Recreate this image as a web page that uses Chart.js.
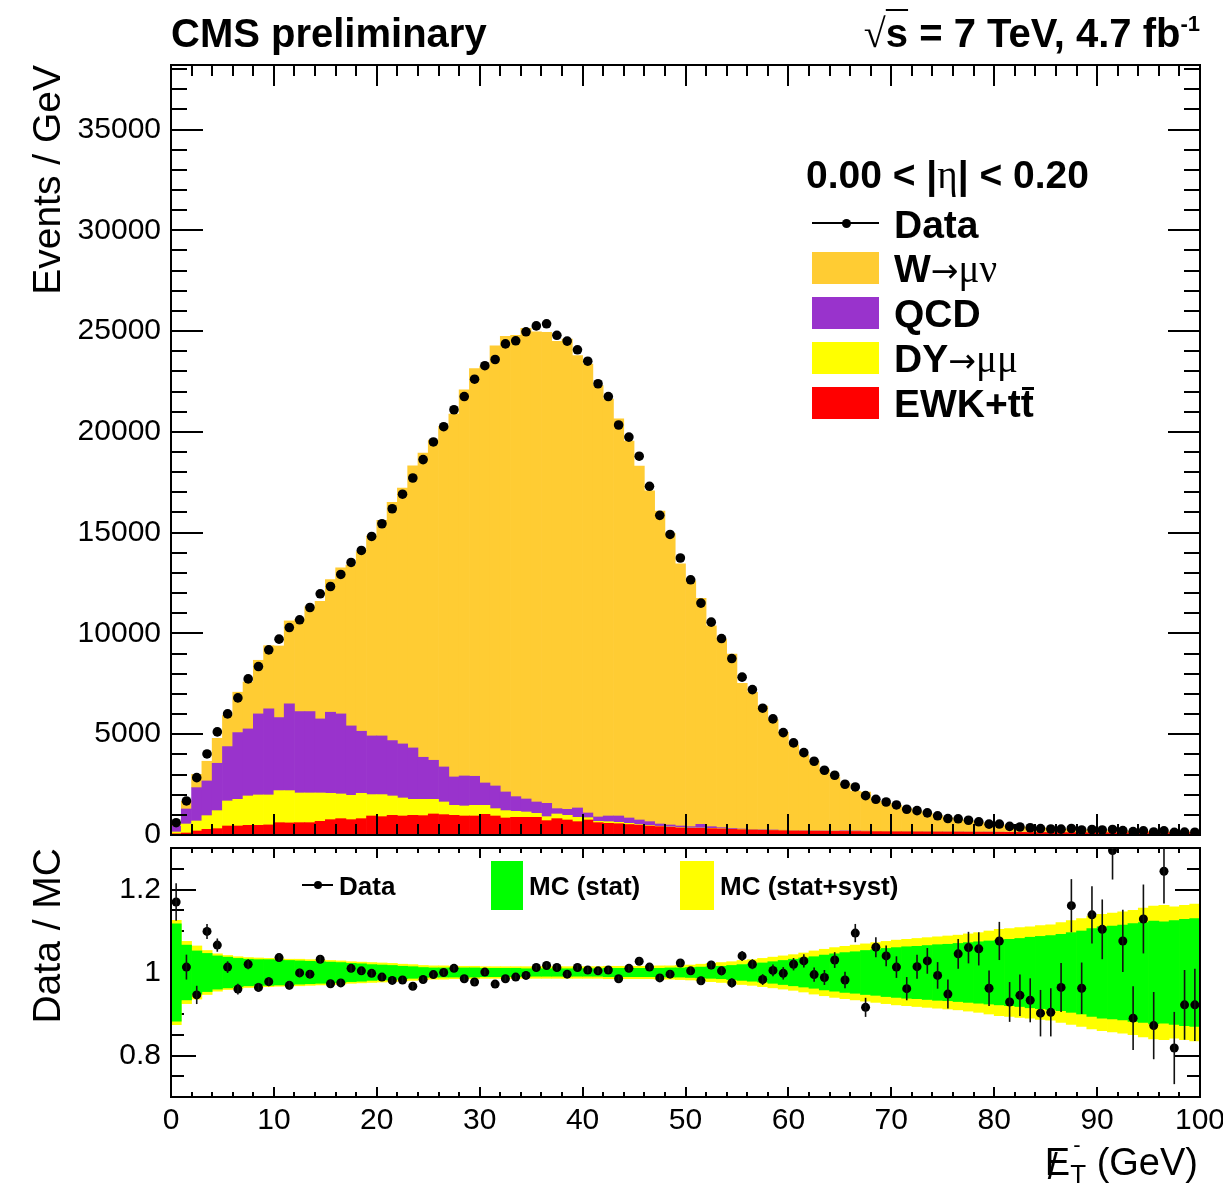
<!DOCTYPE html>
<html>
<head>
<meta charset="utf-8">
<script src="https://cdn.jsdelivr.net/npm/chart.js@4.4.1/dist/chart.umd.min.js"></script>
<style>
  html, body { margin: 0; padding: 0; background: #fff; overflow: hidden; }
  body { width: 1223px; height: 1184px; position: relative; font-family: "Liberation Sans", Arial, sans-serif; color: #000; }
  canvas { position: absolute; left: 0; }
  #main { top: 0; }
  #ratio { top: 820px; }
  .txt { position: absolute; white-space: nowrap; line-height: 1; z-index: 2; }
  .b { font-weight: bold; }
  .sym { font-family: "Liberation Serif", "DejaVu Serif", serif; font-weight: normal; }
  .arr { font-family: "DejaVu Sans", sans-serif; font-weight: normal; font-size: 0.85em; }
  .box { position: absolute; z-index: 2; }
  .rot { transform-origin: 0 0; transform: rotate(-90deg); width: 500px; text-align: right; }
  .ov { text-decoration: overline; text-decoration-thickness: 2px; }
  .tbar { position: relative; display: inline-block; }
  .tbar .bar { position: absolute; left: 1px; right: 0; top: 3px; height: 3px; background: #000; }
  .met { position: relative; display: inline-block; }
  .met .slash { position: absolute; left: 3px; top: 6px; font-size: 36px; }
  .tsub { position: relative; display: inline-block; font-size: 26px; vertical-align: -8px; }
  .tsub .dash { position: absolute; left: 3px; top: -27px; font-size: 22px; }
</style>
</head>
<body>
<canvas id="main" width="1240" height="865"></canvas>
<canvas id="ratio" width="1240" height="364"></canvas>

<div class="txt b" style="left:171px; top:13px; font-size:40px;">CMS preliminary</div>
<div class="txt b" style="right:23px; top:13px; font-size:40px;"><span class="sym" style="font-size:40px;">√</span><span class="ov">s</span> = 7 TeV, 4.7 fb<sup style="font-size:22px; vertical-align:16px;">-1</sup></div>

<div class="txt b" style="left:806px; top:155px; font-size:39px;">0.00 &lt; |<span class="sym">η</span>| &lt; 0.20</div>
<div class="box" style="left:812px; top:222px; width:67px; height:1.5px; background:#000;"></div>
<div class="box" style="left:842px; top:218.5px; width:9px; height:9px; border-radius:50%; background:#000;"></div>
<div class="txt b" style="left:894px; top:205px; font-size:39px;">Data</div>
<div class="box" style="left:812px; top:252px; width:67px; height:32px; background:#FFCC33;"></div>
<div class="txt b" style="left:894px; top:249px; font-size:39px;">W<span class="arr">→</span><span class="sym">μν</span></div>
<div class="box" style="left:812px; top:297px; width:67px; height:32px; background:#9933CC;"></div>
<div class="txt b" style="left:894px; top:294px; font-size:39px;">QCD</div>
<div class="box" style="left:812px; top:342px; width:67px; height:32px; background:#FFFF00;"></div>
<div class="txt b" style="left:894px; top:339px; font-size:39px;">DY<span class="arr">→</span><span class="sym">μμ</span></div>
<div class="box" style="left:812px; top:387px; width:67px; height:32px; background:#FF0000;"></div>
<div class="txt b" style="left:894px; top:384px; font-size:39px;">EWK+t<span class="tbar">t<span class="bar"></span></span></div>

<div class="box" style="left:302px; top:884px; width:31px; height:1.5px; background:#000;"></div>
<div class="box" style="left:314px; top:880.5px; width:8px; height:8px; border-radius:50%; background:#000;"></div>
<div class="txt b" style="left:339px; top:873px; font-size:26px;">Data</div>
<div class="box" style="left:491px; top:861px; width:32px; height:49px; background:#00FF00;"></div>
<div class="txt b" style="left:529px; top:873px; font-size:26px;">MC (stat)</div>
<div class="box" style="left:680px; top:861px; width:34px; height:49px; background:#FFFF00;"></div>
<div class="txt b" style="left:720px; top:873px; font-size:26px;">MC (stat+syst)</div>

<div class="txt rot" style="left:27px; top:565px; font-size:39px;">Events / GeV</div>
<div class="txt rot" style="left:27px; top:1348px; font-size:39px;">Data / MC</div>
<div class="txt" style="right:25px; top:1143px; font-size:38px;"><span class="met">E<span class="slash">/</span></span><span class="tsub">T<span class="dash">-</span></span> (GeV)</div>

<script>
// 1 GeV bins from 0 to 100 GeV
const nBins = 100;
const binCenters = Array.from({ length: nBins }, (_, i) => i + 0.5);

// axis labels
const countTicks = [0, 5000, 10000, 15000, 20000, 25000, 30000, 35000];
const ratioTicks = [0.8, 1, 1.2];

// events per GeV, observed
const dataCounts = [
  611, 1688, 2845, 4022, 5114, 6008, 6802, 7745, 8356, 9185,
  9717, 10292, 10675, 11287, 11966, 12328, 12925, 13520, 14117, 14811,
  15441, 16186, 16906, 17710, 18624, 19498, 20257, 21096, 21752, 22611,
  23281, 23589, 24363, 24517, 24964, 25257, 25361, 24790, 24502, 24070,
  23504, 22387, 21752, 20341, 19741, 18793, 17298, 15858, 14910, 13743,
  12661, 11504, 10560, 9746, 8753, 7830, 7214, 6291, 5759, 5079,
  4568, 4086, 3659, 3212, 2964, 2517, 2383, 1951, 1772, 1638,
  1490, 1278, 1207, 1100, 953, 815, 805, 731, 655, 539,
  543, 427, 397, 359, 320, 297, 289, 323, 248, 273,
  248, 274, 215, 169, 204, 151, 207, 131, 142, 137
];

// simulated backgrounds, stacked bottom to top
const ewkTT = [
  60, 99, 199, 281, 314, 447, 447, 480, 480, 500,
  612, 600, 612, 612, 678, 761, 811, 761, 811, 943,
  910, 977, 943, 977, 960, 1043, 1010, 977, 943, 943,
  1026, 943, 844, 877, 877, 877, 712, 811, 745, 662,
  745, 612, 580, 560, 520, 490, 440, 414, 381, 348,
  331, 331, 315, 298, 281, 265, 248, 235, 224, 213,
  200, 195, 190, 185, 180, 178, 175, 170, 168, 165,
  160, 158, 155, 152, 150, 147, 145, 142, 140, 138,
  135, 132, 130, 127, 125, 122, 120, 118, 116, 114,
  112, 110, 108, 106, 104, 102, 100, 98, 96, 94
];
const dyMuMu = [
  90, 447, 496, 679, 894, 1241, 1324, 1456, 1506, 1486,
  1589, 1601, 1473, 1473, 1407, 1308, 1225, 1208, 1258, 1060,
  1093, 959, 894, 794, 811, 728, 628, 496, 497, 530,
  447, 364, 364, 298, 265, 199, 198, 232, 232, 215,
  115, 67, 82, 69, 59, 30, 30, 20, 19, 17,
  14, 14, 15, 12, 9, 10, 10, 10, 8, 7,
  8, 7, 6, 6, 5, 5, 5, 4, 4, 4,
  3, 3, 3, 3, 3, 3, 3, 3, 3, 3,
  3, 2, 2, 2, 2, 2, 2, 2, 2, 2,
  2, 2, 2, 2, 2, 2, 2, 2, 2, 2
];
const qcd = [
  290, 745, 1655, 1721, 2350, 2698, 3310, 3327, 4022, 4270,
  3625, 4303, 4039, 4039, 3674, 4022, 3972, 3443, 3078, 2912,
  2912, 2748, 2681, 2549, 2085, 1936, 1738, 1407, 1489, 1440,
  1109, 1126, 927, 728, 645, 562, 662, 264, 297, 464,
  232, 215, 281, 314, 265, 225, 192, 112, 97, 82,
  69, 185, 84, 54, 41, 23, 23, 20, 18, 15,
  12, 15, 12, 12, 10, 25, 20, 18, 8, 6,
  5, 5, 4, 4, 3, 6, 8, 3, 3, 8,
  3, 2, 2, 6, 2, 2, 2, 2, 2, 2,
  2, 2, 2, 2, 2, 2, 2, 2, 2, 2
];
const wMuNu = [
  82, 375, 657, 979, 1239, 1545, 2004, 2330, 2660, 3136,
  3553, 4117, 4562, 5208, 5836, 6579, 7248, 7974, 8914, 9926,
  10698, 11816, 12698, 13994, 15090, 15889, 16881, 18007, 19154, 20230,
  20676, 21836, 22599, 22887, 23353, 23319, 23365, 23189, 23326, 22444,
  22272, 21404, 20679, 19708, 18702, 17554, 16414, 15521, 14473, 13000,
  12197, 11209, 9959, 9343, 8646, 7231, 6792, 6135, 5480, 4854,
  4258, 3758, 3469, 3048, 2683, 2355, 1976, 1938, 1490, 1400,
  1303, 1164, 1028, 911, 804, 704, 614, 542, 474, 411,
  364, 324, 286, 250, 226, 202, 176, 156, 138, 122,
  109, 98, 88, 80, 73, 67, 62, 58, 54, 51
];

// data / MC and its uncertainty
const ratio = [
  1.170, 1.013, 0.946, 1.099, 1.066, 1.013, 0.960, 1.020, 0.964, 0.978,
  1.036, 0.969, 0.999, 0.996, 1.032, 0.973, 0.975, 1.010, 1.004, 0.998,
  0.989, 0.981, 0.982, 0.967, 0.983, 0.995, 1.000, 1.010, 0.985, 0.977,
  1.001, 0.972, 0.985, 0.989, 0.993, 1.012, 1.017, 1.012, 0.996, 1.012,
  1.006, 1.004, 1.006, 0.985, 1.010, 1.027, 1.013, 0.987, 0.996, 1.023,
  1.004, 0.980, 1.018, 1.004, 0.975, 1.040, 1.020, 0.983, 1.005, 0.998,
  1.020, 1.028, 0.995, 0.988, 1.030, 0.982, 1.095, 0.916, 1.061, 1.040,
  1.013, 0.961, 1.014, 1.028, 0.993, 0.948, 1.045, 1.060, 1.057, 0.962,
  1.076, 0.929, 0.945, 0.933, 0.902, 0.904, 0.964, 1.161, 0.962, 1.139,
  1.104, 1.294, 1.076, 0.890, 1.129, 0.872, 1.244, 0.818, 0.922, 0.922
];
const ratioErr = [
  0.045, 0.030, 0.022, 0.018, 0.016, 0.014, 0.013, 0.012, 0.011, 0.011,
  0.010, 0.010, 0.010, 0.009, 0.009, 0.009, 0.009, 0.009, 0.008, 0.008,
  0.008, 0.008, 0.008, 0.008, 0.007, 0.007, 0.007, 0.007, 0.007, 0.007,
  0.007, 0.007, 0.007, 0.007, 0.007, 0.007, 0.007, 0.007, 0.007, 0.007,
  0.007, 0.007, 0.007, 0.007, 0.007, 0.008, 0.008, 0.008, 0.008, 0.009,
  0.009, 0.010, 0.010, 0.011, 0.011, 0.012, 0.012, 0.013, 0.014, 0.015,
  0.015, 0.016, 0.017, 0.018, 0.019, 0.020, 0.022, 0.023, 0.024, 0.025,
  0.026, 0.028, 0.029, 0.031, 0.032, 0.035, 0.036, 0.038, 0.040, 0.043,
  0.046, 0.048, 0.050, 0.053, 0.056, 0.058, 0.059, 0.064, 0.062, 0.069,
  0.072, 0.070, 0.075, 0.077, 0.083, 0.081, 0.078, 0.087, 0.084, 0.087
];

// half widths of the MC bands around 1
const mcStat = [
  0.117, 0.066, 0.052, 0.046, 0.040, 0.037, 0.034, 0.032, 0.031, 0.031,
  0.030, 0.029, 0.028, 0.027, 0.026, 0.025, 0.024, 0.022, 0.021, 0.019,
  0.018, 0.017, 0.015, 0.014, 0.012, 0.011, 0.011, 0.011, 0.011, 0.011,
  0.010, 0.010, 0.010, 0.010, 0.009, 0.009, 0.009, 0.009, 0.009, 0.009,
  0.009, 0.009, 0.010, 0.010, 0.010, 0.010, 0.010, 0.010, 0.011, 0.011,
  0.012, 0.013, 0.014, 0.015, 0.017, 0.019, 0.021, 0.023, 0.026, 0.029,
  0.032, 0.035, 0.038, 0.042, 0.045, 0.048, 0.050, 0.053, 0.055, 0.058,
  0.060, 0.062, 0.063, 0.065, 0.067, 0.068, 0.070, 0.072, 0.074, 0.076,
  0.078, 0.080, 0.082, 0.085, 0.087, 0.089, 0.092, 0.096, 0.100, 0.106,
  0.110, 0.112, 0.114, 0.118, 0.120, 0.124, 0.122, 0.125, 0.128, 0.130
];
const mcStatSyst = [
  0.126, 0.075, 0.064, 0.053, 0.045, 0.041, 0.038, 0.036, 0.035, 0.034,
  0.033, 0.032, 0.032, 0.031, 0.030, 0.029, 0.028, 0.026, 0.025, 0.024,
  0.023, 0.022, 0.020, 0.019, 0.017, 0.016, 0.016, 0.015, 0.015, 0.015,
  0.014, 0.014, 0.014, 0.014, 0.014, 0.014, 0.014, 0.014, 0.014, 0.014,
  0.014, 0.014, 0.015, 0.015, 0.015, 0.015, 0.015, 0.016, 0.016, 0.017,
  0.018, 0.020, 0.022, 0.024, 0.026, 0.029, 0.031, 0.034, 0.037, 0.040,
  0.043, 0.047, 0.052, 0.056, 0.060, 0.063, 0.066, 0.069, 0.072, 0.075,
  0.078, 0.080, 0.082, 0.084, 0.086, 0.088, 0.090, 0.093, 0.096, 0.100,
  0.104, 0.106, 0.108, 0.110, 0.113, 0.115, 0.120, 0.125, 0.130, 0.136,
  0.140, 0.143, 0.146, 0.150, 0.155, 0.160, 0.162, 0.158, 0.162, 0.165
];

const tickFont = { family: "Liberation Sans", size: 30 };
const pts = vals => vals.map((v, i) => ({ x: binCenters[i], y: v }));
const band = half => half.map((h, i) => ({ x: binCenters[i], y: [1 - h, 1 + h] }));

// ROOT-like frame with inward ticks on all four sides
function drawTicks(chart, o) {
  const { ctx, chartArea: a, scales: { x, y } } = chart;
  ctx.save();
  ctx.strokeStyle = "#000";
  ctx.lineWidth = 2;
  ctx.beginPath();
  const isMajor = (v, step) => Math.abs(v / step - Math.round(v / step)) < 1e-6;
  const nx = Math.round((x.max - x.min) / o.x.minor);
  for (let i = 1; i < nx; i++) {
    const v = x.min + i * o.x.minor;
    const len = isMajor(v, o.x.major) ? o.x.majorLen : o.x.minorLen;
    const px = Math.round(x.getPixelForValue(v));
    ctx.moveTo(px, a.bottom); ctx.lineTo(px, a.bottom - len);
    ctx.moveTo(px, a.top); ctx.lineTo(px, a.top + len);
  }
  const ny = Math.floor((y.max - y.min) / o.y.minor + 1e-6);
  for (let i = 1; i <= ny; i++) {
    const v = y.min + i * o.y.minor;
    if (v >= y.max - 1e-9) break;
    const len = isMajor(v, o.y.major) ? o.y.majorLen : o.y.minorLen;
    const py = Math.round(y.getPixelForValue(v));
    ctx.moveTo(a.left, py); ctx.lineTo(a.left + len, py);
    ctx.moveTo(a.right, py); ctx.lineTo(a.right - len, py);
  }
  ctx.stroke();
  ctx.restore();
}

const frameTicks = {
  id: "frameTicks",
  beforeDatasetsDraw(chart, args, opts) {
    if (!opts.ticksOnTop) drawTicks(chart, opts);
  },
  afterDatasetsDraw(chart, args, opts) {
    if (opts.ticksOnTop) drawTicks(chart, opts);
    const { ctx, chartArea: a } = chart;
    ctx.save();
    ctx.strokeStyle = "#000";
    ctx.lineWidth = 2;
    ctx.strokeRect(a.left, a.top, a.right - a.left, a.bottom - a.top);
    ctx.restore();
  }
};

// vertical error bars for datasets carrying an `errors` array
const errorBars = {
  id: "errorBars",
  afterDatasetsDraw(chart) {
    const { ctx, chartArea: a } = chart;
    const ys = chart.scales.y;
    chart.data.datasets.forEach((ds, di) => {
      if (!ds.errors) return;
      const meta = chart.getDatasetMeta(di);
      ctx.save();
      ctx.beginPath();
      ctx.rect(a.left, a.top, a.right - a.left, a.bottom - a.top);
      ctx.clip();
      ctx.strokeStyle = "#111";
      ctx.lineWidth = 1.6;
      meta.data.forEach((pt, i) => {
        const v = ds.data[i].y, e = ds.errors[i];
        ctx.beginPath();
        ctx.moveTo(pt.x, ys.getPixelForValue(v - e));
        ctx.lineTo(pt.x, ys.getPixelForValue(v + e));
        ctx.stroke();
      });
      ctx.restore();
    });
  }
};

const barDefaults = { barPercentage: 1, categoryPercentage: 1, borderWidth: 0 };

new Chart(document.getElementById("main"), {
  type: "bar",
  data: {
    datasets: [
      { type: "line", label: "Data", data: pts(dataCounts), showLine: false, pointRadius: 4.8,
        pointBackgroundColor: "#000", pointBorderWidth: 0, stack: "data", clip: 0 },
      { label: "EWK+tt", data: pts(ewkTT), backgroundColor: "#FF0000", stack: "mc" },
      { label: "DY", data: pts(dyMuMu), backgroundColor: "#FFFF00", stack: "mc" },
      { label: "QCD", data: pts(qcd), backgroundColor: "#9933CC", stack: "mc" },
      { label: "W", data: pts(wMuNu), backgroundColor: "#FFCC33", stack: "mc" }
    ]
  },
  options: {
    responsive: false,
    animation: false,
    devicePixelRatio: 1,
    layout: { padding: { top: 65, right: 40, left: 0, bottom: 0 } },
    datasets: { bar: barDefaults },
    plugins: {
      legend: { display: false },
      tooltip: { enabled: false },
      frameTicks: {
        ticksOnTop: true,
        x: { major: 10, minor: 2, majorLen: 21, minorLen: 11 },
        y: { major: 5000, minor: 1000, majorLen: 32, minorLen: 16 }
      }
    },
    scales: {
      x: {
        type: "linear", min: 0, max: 100, offset: false, stacked: true,
        grid: { display: false }, border: { display: false },
        ticks: { display: false },
        afterFit: s => { s.height = 30; }
      },
      y: {
        min: 0, max: 38200, stacked: true,
        grid: { display: false, drawTicks: false }, border: { display: false },
        afterBuildTicks: s => { s.ticks = countTicks.map(v => ({ value: v })); },
        ticks: { padding: 10, color: "#000", font: tickFont, callback: v => String(v) },
        afterFit: s => { s.width = 171; }
      }
    }
  },
  plugins: [frameTicks]
});

new Chart(document.getElementById("ratio"), {
  type: "bar",
  data: {
    datasets: [
      { type: "line", label: "Data", data: pts(ratio), errors: ratioErr, showLine: false, pointRadius: 4.5,
        pointBackgroundColor: "#000", pointBorderWidth: 0, clip: 0 },
      { label: "MC (stat)", data: band(mcStat), backgroundColor: "#00FF00", grouped: false },
      { label: "MC (stat+syst)", data: band(mcStatSyst), backgroundColor: "#FFFF00", grouped: false }
    ]
  },
  options: {
    responsive: false,
    animation: false,
    devicePixelRatio: 1,
    layout: { padding: { top: 28, right: 40, left: 0, bottom: 0 } },
    datasets: { bar: barDefaults },
    plugins: {
      legend: { display: false },
      tooltip: { enabled: false },
      frameTicks: {
        ticksOnTop: false,
        x: { major: 10, minor: 2, majorLen: 10, minorLen: 5 },
        y: { major: 0.2, minor: 0.05, majorLen: 25, minorLen: 13 }
      }
    },
    scales: {
      x: {
        type: "linear", min: 0, max: 100, offset: false,
        grid: { display: false, drawTicks: false }, border: { display: false },
        ticks: { stepSize: 10, padding: 6, maxRotation: 0, autoSkip: false, color: "#000", font: tickFont },
        afterFit: s => { s.height = 87; }
      },
      y: {
        min: 0.7, max: 1.3,
        grid: { display: false, drawTicks: false }, border: { display: false },
        afterBuildTicks: s => { s.ticks = ratioTicks.map(v => ({ value: v })); },
        ticks: { padding: 10, color: "#000", font: tickFont, callback: v => String(v) },
        afterFit: s => { s.width = 171; }
      }
    }
  },
  plugins: [frameTicks, errorBars]
});
</script>
</body>
</html>
